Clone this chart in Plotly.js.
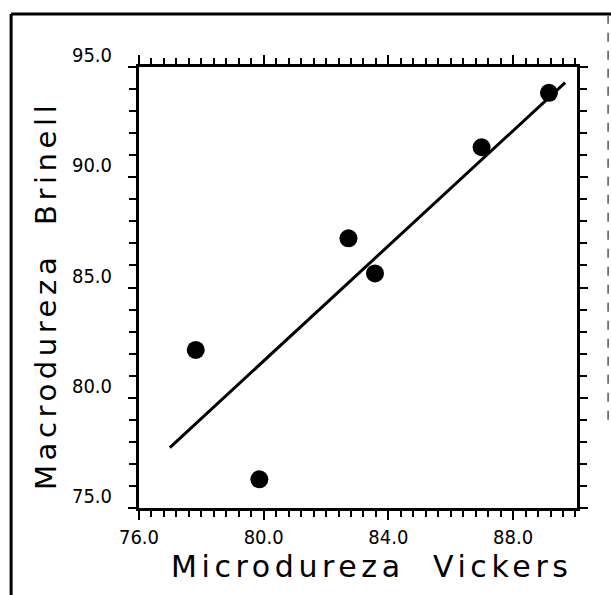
<!DOCTYPE html>
<html>
<head>
<meta charset="utf-8">
<script src="https://cdn.plot.ly/plotly-3.0.1.min.js"></script>
<style>
  html, body { margin: 0; padding: 0; background: #fff; }
  #chart { width: 611px; height: 595px; }
  .annotation-text { letter-spacing: 4.6px; }
</style>
</head>
<body>
<div id="chart"></div>
<script>
// Measured points (Microdureza Vickers vs Macrodureza Brinell)
const vickers = [77.82, 79.86, 82.72, 83.57, 86.99, 89.15];
const brinell = [82.17, 76.30, 87.23, 85.64, 91.36, 93.83];

// Fitted straight line, endpoints
const fitX = [76.99, 89.67];
const fitY = [77.74, 94.29];

// Tick labels
const xTickVals = [76, 80, 84, 88];
const xTickText = ['76.0', '80.0', '84.0', '88.0'];
const yTickVals = [75, 80, 85, 90, 95];
const yTickText = ['75.0', '80.0', '85.0', '90.0', '95.0'];

// Axis titles
const xTitle = 'Microdureza  Vickers';
const yTitle = 'Macrodureza  Brinell';

const tickFont = { family: 'DejaVu Sans Condensed, DejaVu Sans, sans-serif', size: 20, color: '#000' };
const xTitleFont = { family: 'DejaVu Sans, sans-serif', size: 30, color: '#000' };
const yTitleFont = { family: 'DejaVu Sans, sans-serif', size: 29, color: '#000' };

const traces = [
  {
    x: fitX, y: fitY, type: 'scatter', mode: 'lines',
    line: { color: '#000', width: 3 }, hoverinfo: 'skip', showlegend: false
  },
  {
    x: vickers, y: brinell, type: 'scatter', mode: 'markers',
    marker: { color: '#000', size: 18, line: { width: 0 } }, showlegend: false
  }
];

const layout = {
  width: 611, height: 595,
  margin: { l: 139, r: 34, t: 67, b: 87 },
  paper_bgcolor: '#fff', plot_bgcolor: '#fff',
  showlegend: false,
  xaxis: {
    range: [76, 90.05],
    tickmode: 'array', tickvals: xTickVals, ticktext: xTickText,
    ticks: 'outside', ticklen: 9, tickwidth: 2, tickcolor: '#000',
    minor: { dtick: 0.4, tick0: 76, ticks: 'outside', ticklen: 6, tickwidth: 2, tickcolor: '#000', showgrid: false },
    showline: true, linecolor: '#000', linewidth: 3, mirror: 'allticks',
    showgrid: false, zeroline: false,
    tickfont: tickFont
  },
  yaxis: {
    range: [75, 95],
    tickmode: 'array', tickvals: yTickVals, ticktext: yTickText,
    ticks: 'outside', ticklen: 8, tickwidth: 2, tickcolor: '#000',
    minor: { dtick: 1, tick0: 75, ticks: 'outside', ticklen: 7, tickwidth: 2, tickcolor: '#000', showgrid: false },
    showline: true, linecolor: '#000', linewidth: 3, mirror: 'allticks',
    showgrid: false, zeroline: false,
    tickfont: tickFont,
    ticklabelshift: -12,
    ticklabelstandoff: 12
  },
  annotations: [
    { text: xTitle, xref: 'paper', yref: 'paper', x: 0.532, y: -0.133, xanchor: 'center', yanchor: 'middle',
      showarrow: false, font: xTitleFont },
    { text: yTitle, xref: 'paper', yref: 'paper', x: -0.212, y: 0.481, xanchor: 'center', yanchor: 'middle',
      textangle: -90, showarrow: false, font: yTitleFont }
  ],
  shapes: [
    { type: 'line', xref: 'paper', yref: 'paper', x0: -0.292, x1: -0.292, y0: -0.2, y1: 1.12, line: { color: '#000', width: 3 } },
    { type: 'line', xref: 'paper', yref: 'paper', x0: -0.292, x1: 1.08, y0: 1.12, y1: 1.12, line: { color: '#000', width: 3 } },
    { type: 'line', xref: 'paper', yref: 'paper', x0: 1.071, x1: 1.071, y0: 0.2, y1: 1.12, line: { color: '#555', width: 1.5, dash: 'dash' } }
  ]
};

Plotly.newPlot('chart', traces, layout, { staticPlot: true, displayModeBar: false });
</script>
</body>
</html>
